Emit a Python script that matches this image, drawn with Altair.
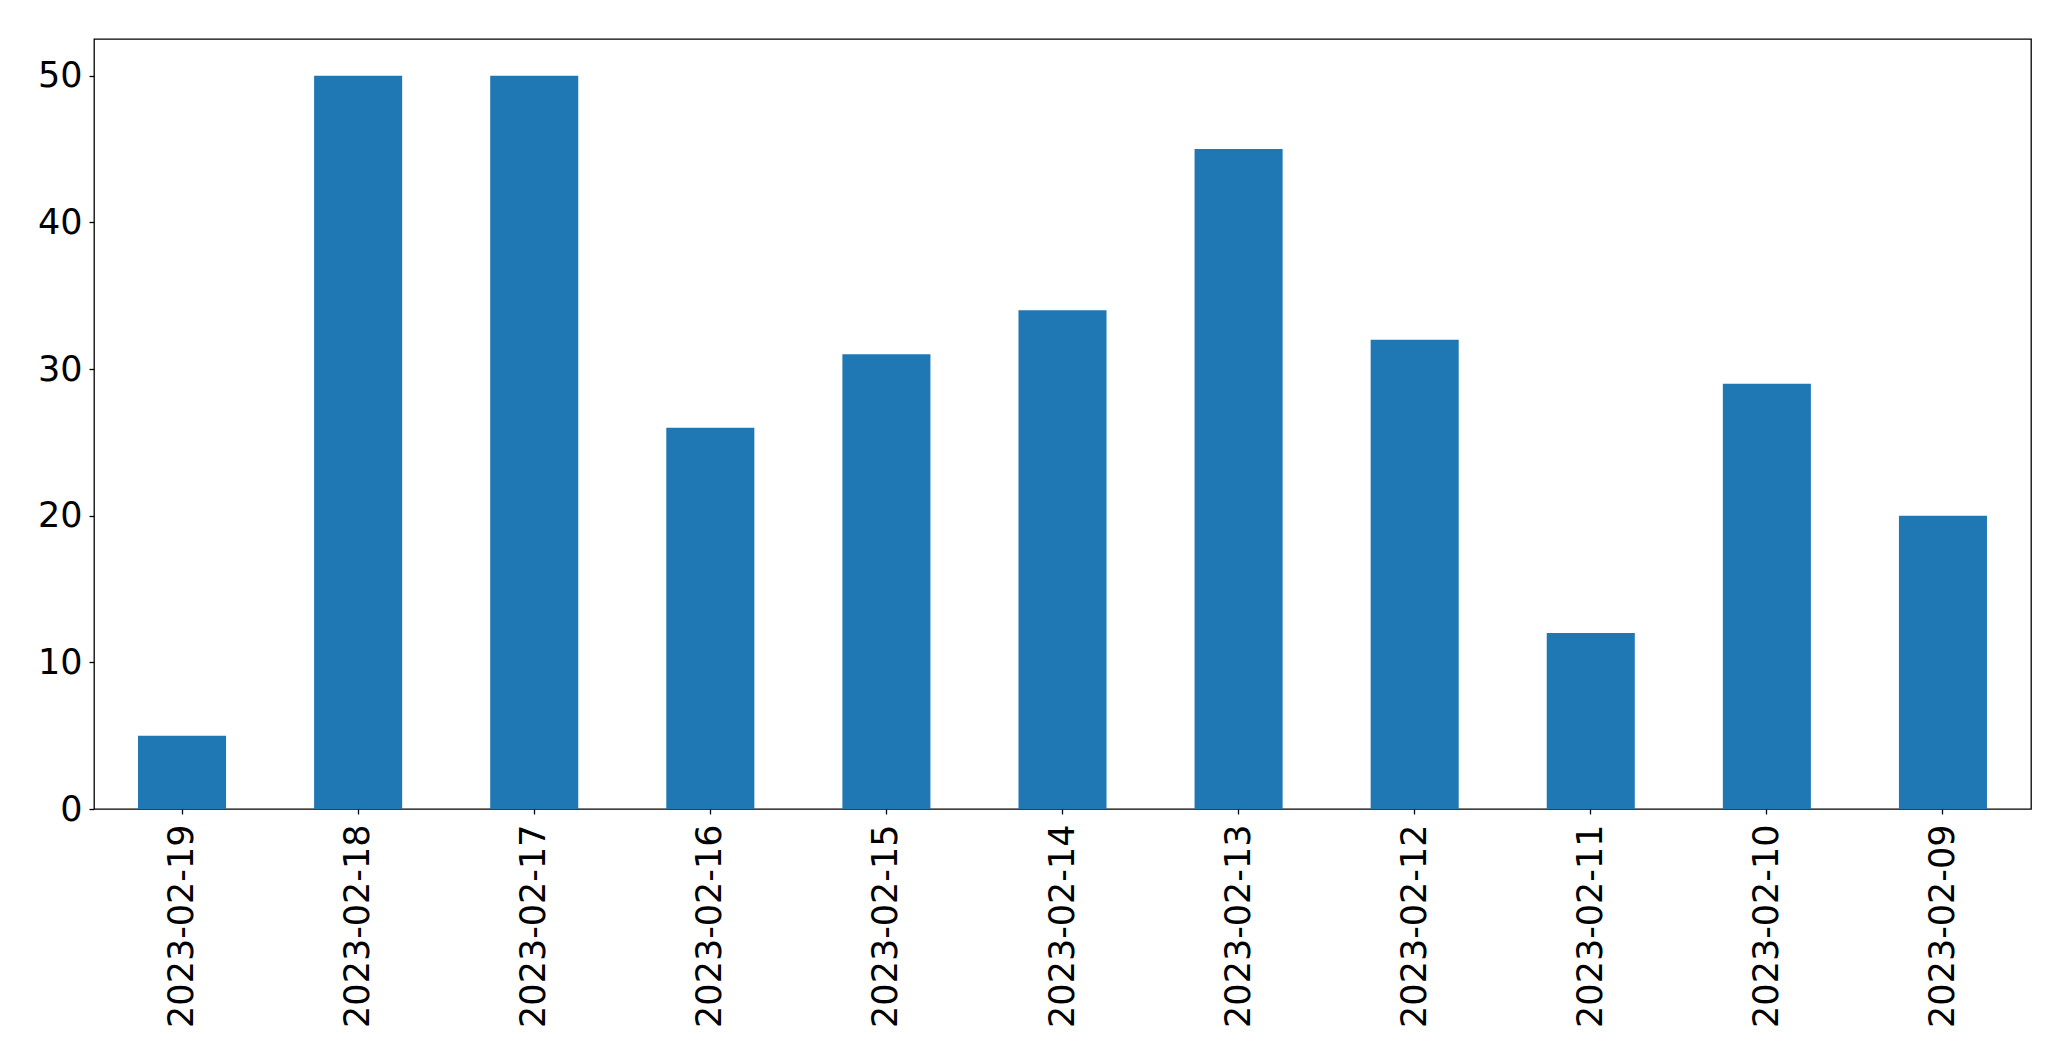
import altair as alt
import pandas as pd

dates = ["2023-02-19", "2023-02-18", "2023-02-17", "2023-02-16", "2023-02-15",
         "2023-02-14", "2023-02-13", "2023-02-12", "2023-02-11", "2023-02-10",
         "2023-02-09"]
counts = [5, 50, 50, 26, 31, 34, 45, 32, 12, 29, 20]
y_ticks = [0, 10, 20, 30, 40, 50]

df = pd.DataFrame({"date": dates, "count": counts})

chart = alt.Chart(df).mark_bar(color="#1f77b4").encode(
    x=alt.X("date:N", sort=dates, title=None,
            scale=alt.Scale(paddingInner=0.5, paddingOuter=0.25),
            axis=alt.Axis(labelAngle=270, labelFontSize=35, labelFont="DejaVu Sans",
                          labelColor="black", tickColor="black", tickSize=5,
                          tickWidth=1.3, labelPadding=10, labelLimit=0,
                          domain=False, grid=False)),
    y=alt.Y("count:Q", title=None,
            scale=alt.Scale(domain=[0, 52.5], nice=False, zero=True),
            axis=alt.Axis(values=y_ticks, labelFontSize=35, labelFont="DejaVu Sans",
                          labelColor="black", tickColor="black", tickSize=5,
                          tickWidth=1.3, labelPadding=7, labelLimit=0,
                          domain=False, grid=False)),
).properties(
    width=1937,
    height=770,
    autosize=alt.AutoSizeParams(type="none"),
    padding={"left": 86, "top": 31, "right": 30, "bottom": 220},
    background="white",
).configure_view(
    stroke="black",
    strokeWidth=1.3,
)

chart.save("out.html", embed_options={"renderer": "svg", "actions": False})
